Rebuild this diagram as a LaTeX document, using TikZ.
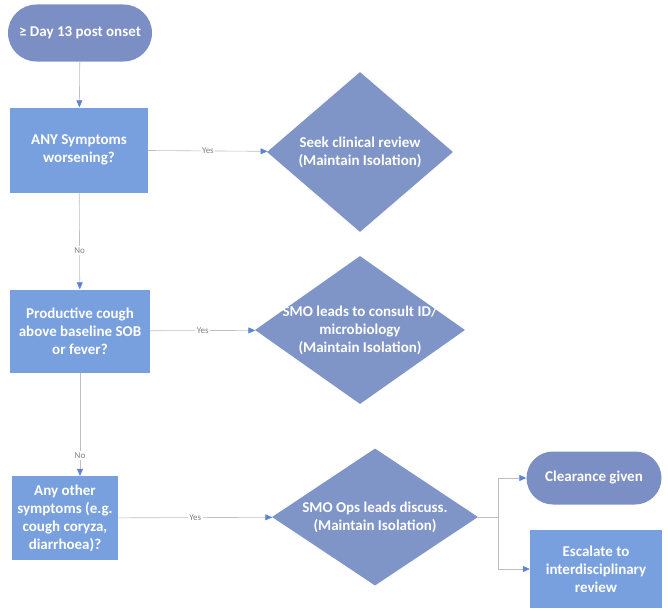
\documentclass[tikz,border=0pt]{standalone}
\usepackage{fontspec}
\setmainfont{Carlito}
\usetikzlibrary{shapes.geometric,shapes.misc,arrows.meta}
\definecolor{termblue}{RGB}{124,143,196}
\definecolor{boxblue}{RGB}{121,160,222}
\definecolor{diablue}{RGB}{127,149,199}
\definecolor{tipblue}{RGB}{92,132,212}
\tikzset{
	txt/.style={text=white, font=\bfseries\fontsize{15}{18}\selectfont, align=center},
	term/.style={txt, rounded rectangle, fill=termblue, inner sep=0pt},
	qbox/.style={txt, rectangle, fill=boxblue, inner sep=0pt},
	dia/.style={diamond, fill=diablue, inner sep=0pt},
	conn/.style={draw=gray!50, line width=0.6pt, -{Triangle[length=7pt,width=6pt,color=tipblue]}},
	lbl/.style={fill=white, text=gray, font=\fontsize{9}{10}\selectfont, inner sep=1.5pt},
}
\begin{document}
\begin{tikzpicture}[x=1pt, y=1pt]
	\useasboundingbox (0,0) rectangle (668,-610) ;
	% left column
	\node (start)[term, minimum width=144pt, minimum height=57pt] at (80,-33) {≥ Day 13 post onset} ;
	\node (q1)[qbox, minimum width=138pt, minimum height=85pt] at (79,-150) {ANY Symptoms\\worsening?} ;
	\node (q2)[qbox, minimum width=140pt, minimum height=83pt] at (80,-331) {Productive cough\\above baseline SOB\\or fever?} ;
	\node (q3)[qbox, minimum width=106pt, minimum height=84pt] at (65,-518) {Any other\\symptoms (e.g.\\cough coryza,\\diarrhoea)?} ;
	% diamonds
	\node (d1)[dia, minimum width=186pt, minimum height=160pt] at (360,-152) {} ;
	\node (t1)[txt] at (d1) {Seek clinical review\\(Maintain Isolation)} ;
	\node (d2)[dia, minimum width=210pt, minimum height=148pt] at (360,-330) {} ;
	\node (t2)[txt] at (d2) {SMO leads to consult ID/\\microbiology\\(Maintain Isolation)} ;
	\node (d3)[dia, minimum width=206pt, minimum height=137pt] at (375,-517) {} ;
	\node (t3)[txt] at (d3) {SMO Ops leads discuss.\\(Maintain Isolation)} ;
	% outcomes
	\node (clear)[term, minimum width=135pt, minimum height=53pt] at (594,-478) {Clearance given} ;
	\node (esc)[qbox, minimum width=132pt, minimum height=78pt] at (596,-569) {Escalate to\\interdisciplinary\\review} ;
	\coordinate (br) at (498,-517) ;
	\draw[conn] (start) -- (q1) ;
	\draw[conn] (q1) -- node[lbl, pos=.6] {No} (q2) ;
	\draw[conn] (q2) -- node[lbl, pos=.8] {No} (q2 |- q3.north) ;
	\draw[conn] (q1) -- node[lbl] {Yes} (d1) ;
	\draw[conn] (q2) -- node[lbl] {Yes} (d2) ;
	\draw[conn] (q3) -- node[lbl] {Yes} (d3) ;
	\draw[gray!50, line width=0.6pt] (d3) -- (br) ;
	% \draw[conn] (br) -- (clear) ;
	\draw[conn] (br) |- (clear) ;
	\draw[conn] (br) |- (esc) ;
\end{tikzpicture}
\end{document}
